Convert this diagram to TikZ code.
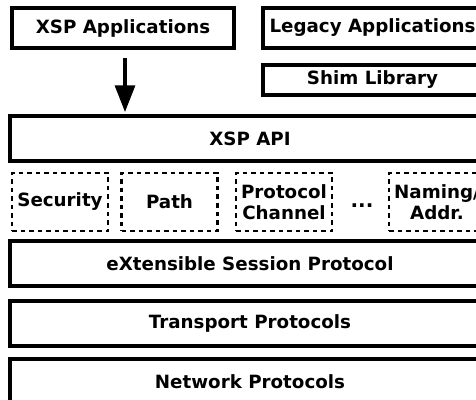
\documentclass[tikz,border=0pt]{standalone}
\usepackage{fontspec}
\setmainfont{DejaVu Sans}
\usetikzlibrary{arrows.meta}
\tikzset{
  box/.style={draw=black,fill=white,line width=2.3pt,inner sep=0pt,
    font=\fontsize{13.7}{16}\selectfont\bfseries,align=center},
  dbox/.style={box,line width=1.8pt,dash pattern=on 3.4pt off 3pt,
    minimum width=72pt,minimum height=43.5pt},
  layer/.style={box,minimum width=360pt,minimum height=33.75pt},
  flow/.style={draw=black,line width=2.4pt,-{Triangle[width=15pt,length=20pt]}},
}

\begin{document}
\begin{tikzpicture}[x=0.75pt,y=-0.75pt]
\useasboundingbox (0,0) rectangle (476,400);
\clip (0,0) rectangle (476,400);
\node[box,minimum width=166.5pt,minimum height=30pt] (xspapp) at (123,28) {XSP Applications};
\node[box,minimum width=164.25pt,minimum height=30pt] (legacy) at (372.5,28) {Legacy Applications};
\node[box,minimum width=164.25pt,minimum height=22.5pt] (shim) at (372.5,80) {Shim Library};
\node[layer] (api) at (250,138.5) {XSP API};
\node[dbox] (security) at (60,202) {Security};
\node[dbox] (path) at (169.5,202) {Path};
\node[dbox] (channel) at (284,202) {Protocol\\Channel};
\node[box,draw=none,fill=none,font=\fontsize{15}{16}\selectfont\bfseries] (dots) at (362,206) {...};
\node[dbox] (naming) at (437,202) {Naming/\\Addr.};
\node[layer] (esp) at (250,263.5) {eXtensible Session Protocol};
\node[layer] (transport) at (250,323.5) {Transport Protocols};
\node[layer] (network) at (250,381.5) {Network Protocols};
\coordinate (tip) at (125,112);
\draw[flow] ([xshift=1.5pt,yshift=-6pt]xspapp.south) -- (tip);
\end{tikzpicture}
\end{document}
